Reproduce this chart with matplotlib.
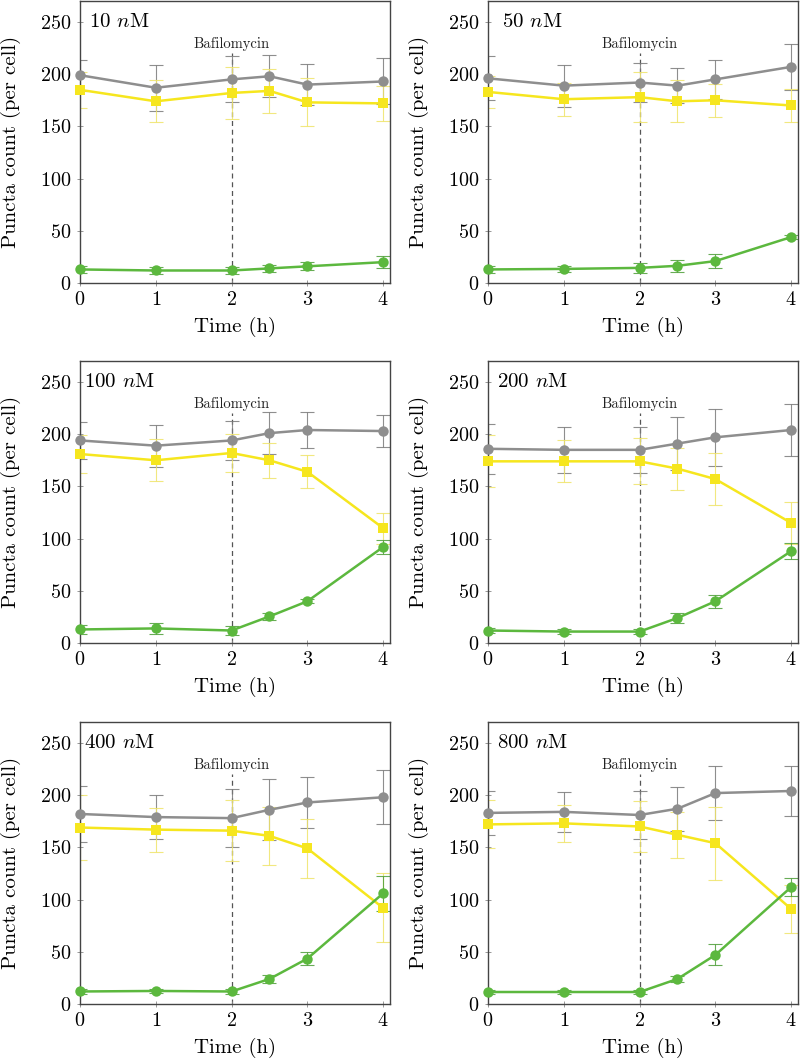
import matplotlib
matplotlib.use("Agg")
import matplotlib.pyplot as plt

plt.rcParams['font.family'] = ['cmr10', 'DejaVu Serif']
plt.rcParams['mathtext.fontset'] = 'cm'
plt.rcParams['axes.formatter.use_mathtext'] = True

time = [0, 1, 2, 2.5, 3, 4]
concentrations = ["10", "50", "100", "200", "400", "800"]

gray_mean = [
    [199, 187, 195, 198, 190, 193],
    [196, 189, 192, 189, 195, 207],
    [194, 189, 194, 201, 204, 203],
    [186, 185, 185, 191, 197, 204],
    [182, 179, 178, 186, 193, 198],
    [183, 184, 181, 187, 202, 204],
]
gray_err = [
    [15, 22, 22, 20, 20, 22],
    [21, 20, 19, 17, 19, 22],
    [18, 20, 19, 20, 17, 15],
    [24, 22, 22, 25, 27, 25],
    [27, 21, 28, 29, 24, 26],
    [21, 19, 23, 21, 26, 24],
]
yellow_mean = [
    [185, 174, 182, 184, 173, 172],
    [183, 176, 178, 174, 175, 170],
    [181, 175, 182, 175, 164, 110],
    [174, 174, 174, 167, 157, 115],
    [169, 167, 166, 161, 149, 92],
    [172, 173, 170, 162, 154, 91],
]
yellow_err = [
    [17, 20, 25, 21, 23, 17],
    [15, 16, 24, 20, 16, 16],
    [18, 20, 18, 17, 16, 15],
    [25, 20, 22, 20, 25, 20],
    [31, 21, 29, 28, 28, 33],
    [23, 18, 24, 22, 35, 23],
]
green_mean = [
    [13, 12, 12, 14, 16, 20],
    [13, 13.5, 14.5, 16.5, 21, 44],
    [13, 14, 12, 25.5, 40, 92],
    [12, 11, 11, 24, 40, 88],
    [12, 12.5, 12, 24, 43.5, 106],
    [11.5, 11.5, 11.5, 24, 47, 112],
]
green_err = [
    [3, 3, 3, 3, 4, 6],
    [3, 3, 5, 6, 7, 2],
    [4, 5, 4, 3, 2, 7],
    [2, 2, 2, 5, 6, 8],
    [2, 2, 2, 4, 6, 17],
    [2, 2, 2, 3, 10, 9],
]

bafilo_time = 2
yticks = [0, 50, 100, 150, 200, 250]
xticks = [0, 1, 2, 3, 4]

fig = plt.figure(figsize=(8, 10.62), dpi=100)

lefts = [0.100, 0.610]
bottoms = [0.7335, 0.3945, 0.0546]
w, h = 0.3875, 0.2655

c_gray = "#8e8e8e"
c_gray_e = "#7a7a7a"
c_yellow = "#f6e61e"
c_yellow_e = "#efe46a"
c_green = "#5cb83e"
c_green_e = "#4e9e38"
c_spine = "#444444"

for i, conc in enumerate(concentrations):
    r, c = divmod(i, 2)
    ax = fig.add_axes([lefts[c], bottoms[r], w, h])
    series = [
        (gray_mean[i], gray_err[i], c_gray, c_gray_e, 'o'),
        (yellow_mean[i], yellow_err[i], c_yellow, c_yellow_e, 's'),
        (green_mean[i], green_err[i], c_green, c_green_e, 'o'),
    ]
    for mean, err, col, ecol, mk in series:
        ax.errorbar(time, mean, yerr=err, fmt='none', ecolor=ecol,
                    elinewidth=0.8, capsize=5, capthick=0.8, alpha=0.85, zorder=2)
        ax.plot(time, mean, color=col, lw=1.8, marker=mk, markersize=7.5,
                markeredgewidth=0, clip_on=False, zorder=3)
    ax.axvline(bafilo_time, ymin=0, ymax=220 / 270, color="#555555", lw=0.9,
               ls=(0, (4, 3)), zorder=1)
    ax.text(bafilo_time, 229, "Bafilomycin", ha='center', va='center', fontsize=10.5,
            color="#222222")
    lx = 0.52 if c == 0 else 0.59
    ax.text(lx, 250, conc + r" $n$M", ha='center', va='center', fontsize=15)
    ax.set_xlim(0, 4.09)
    ax.set_ylim(0, 270)
    ax.set_xticks(xticks)
    ax.set_yticks(yticks)
    ax.tick_params(direction='inout', length=5, width=0.6, color="#888888",
                   labelsize=14.5)
    ax.tick_params(axis='y', pad=4)
    ax.tick_params(axis='x', pad=3)
    for s in ax.spines.values():
        s.set_color(c_spine)
        s.set_linewidth(1.0)
    ax.set_xlabel("Time (h)", fontsize=15)
    ax.set_ylabel("Puncta count (per cell)", fontsize=15)
    ax.xaxis.set_label_coords(0.5, -0.156)
    ax.xaxis.label.set_va('center')
    ax.yaxis.set_label_coords(-0.222, 0.5)
    ax.yaxis.label.set_va('center')

fig.savefig("out.png", dpi=100)
